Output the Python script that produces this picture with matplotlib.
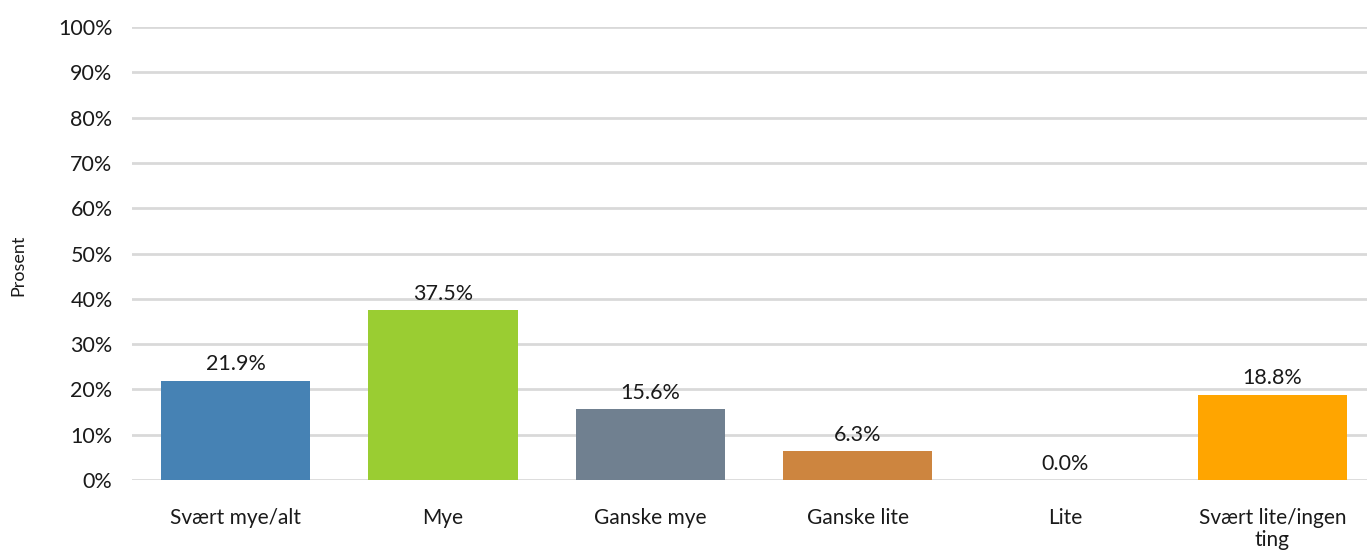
import matplotlib
matplotlib.use("Agg")
import matplotlib.pyplot as plt
from matplotlib.ticker import PercentFormatter

categories = ["Svært mye/alt", "Mye", "Ganske mye", "Ganske lite", "Lite", "Svært lite/ingen\nting"]
values = [21.9, 37.5, 15.6, 6.3, 0.0, 18.8]
colors = ["#4682B4", "#9ACD32", "#708090", "#CD853F", "#BDB76B", "#FFA500"]
yticks = list(range(0, 101, 10))

plt.rcParams["font.family"] = ["Lato", "DejaVu Sans"]

fig = plt.figure(figsize=(13.67, 5.52), dpi=100)
ax = fig.add_axes([132 / 1367, 72 / 552, 1244 / 1367, 453 / 552])

x = list(range(len(categories)))
bars = ax.bar(x, values, width=0.72, color=colors, zorder=3)

for xi, v in zip(x, values):
    ax.text(xi, v + 1.4, f"{v:.1f}%", ha="center", va="bottom", fontsize=15.5, color="#1a1a1a")

ax.set_xlim(-0.5, len(categories) - 0.5)
ax.set_ylim(0, 100)
ax.set_yticks(yticks)
ax.yaxis.set_major_formatter(PercentFormatter(decimals=0))
ax.set_xticks(x)
ax.set_xticklabels(categories, fontsize=15, color="#1a1a1a", linespacing=1.15)
ax.tick_params(axis="y", labelsize=15.5, colors="#1a1a1a", length=0, pad=14)
ax.tick_params(axis="x", length=0, pad=20)
ax.grid(axis="y", color="#d9d9d9", linewidth=2, zorder=0)
for s in ax.spines.values():
    s.set_visible(False)

fig.text(18 / 1367, 1 - 265 / 552, "Prosent", rotation=90, ha="center", va="center",
         fontsize=13, color="#1a1a1a")

fig.savefig("out.png", dpi=100)
